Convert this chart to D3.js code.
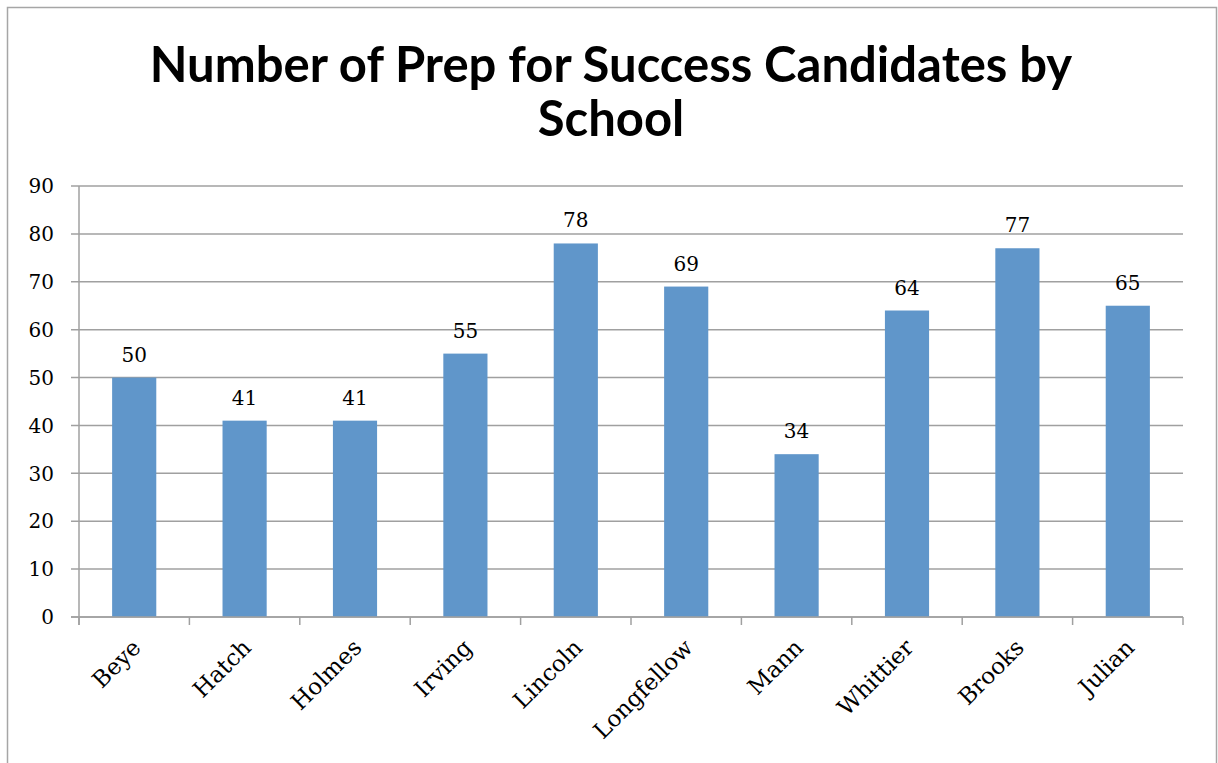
<!DOCTYPE html>
<html><head><meta charset="utf-8">
<script src="https://cdn.jsdelivr.net/npm/d3@7"></script>
<style>body{margin:0;background:#fff;}svg{display:block;}</style>
</head><body>
<svg id="c" width="1218" height="763"></svg>
<script>
const schools = ["Beye","Hatch","Holmes","Irving","Lincoln","Longfellow","Mann","Whittier","Brooks","Julian"];
const candidates = [50,41,41,55,78,69,34,64,77,65];
const yTicks = [0,10,20,30,40,50,60,70,80,90];
const titleLines = ["Number of Prep for Success Candidates by","School"];

const svg = d3.select("#c");
const m = {left:79, right:1183, top:186, bottom:617};
svg.append("rect").attr("x",7.5).attr("y",7.5).attr("width",1209).attr("height",770)
  .attr("fill","#fff").attr("stroke","#a6a6a6").attr("stroke-width",1.5);

const x = d3.scaleBand().domain(schools).range([m.left,m.right]).paddingInner(0.6).paddingOuter(0.3);
const xb = d3.scaleBand().domain(schools).range([m.left,m.right]);
const y = d3.scaleLinear().domain([0,90]).range([m.bottom,m.top]);

const serif = "'DejaVu Serif','Liberation Serif',serif";
// gridlines
svg.append("g").selectAll("line").data(yTicks).join("line")
  .attr("x1",m.left-8).attr("x2",m.right).attr("y1",d=>y(d)).attr("y2",d=>y(d))
  .attr("stroke","#a0a0a0").attr("stroke-width",1.5);
// y axis line
svg.append("line").attr("x1",m.left).attr("x2",m.left).attr("y1",m.top).attr("y2",m.bottom+8)
  .attr("stroke","#a0a0a0").attr("stroke-width",1.5);
// x ticks
const bounds = schools.map(s=>xb(s)).concat([m.right]);
svg.append("g").selectAll("line").data(bounds).join("line")
  .attr("x1",d=>d).attr("x2",d=>d).attr("y1",m.bottom).attr("y2",m.bottom+8)
  .attr("stroke","#a0a0a0").attr("stroke-width",1.5);
// y labels
svg.append("g").selectAll("text").data(yTicks).join("text")
  .attr("x",54).attr("y",d=>y(d)).attr("dy","0.36em").attr("text-anchor","end")
  .attr("font-family",serif).attr("font-size",20).attr("fill","#000").text(d=>d);
// bars
svg.append("g").selectAll("rect").data(candidates).join("rect")
  .attr("x",(d,i)=>x(schools[i])).attr("width",x.bandwidth())
  .attr("y",d=>y(d)).attr("height",d=>y(0)-y(d))
  .attr("fill","#6096ca");
// redraw baseline over bars
svg.append("line").attr("x1",m.left-8).attr("x2",m.right).attr("y1",m.bottom).attr("y2",m.bottom)
  .attr("stroke","#a0a0a0").attr("stroke-width",1.5);
// value labels
svg.append("g").selectAll("text").data(candidates).join("text")
  .attr("x",(d,i)=>x(schools[i])+x.bandwidth()/2).attr("y",d=>y(d)-16)
  .attr("text-anchor","middle").attr("font-family",serif).attr("font-size",20).text(d=>d);
// x labels
svg.append("g").selectAll("text").data(schools).join("text")
  .attr("transform",s=>`translate(${xb(s)+xb.bandwidth()/2+8},${m.bottom+32}) rotate(-45)`)
  .attr("text-anchor","end")
  .attr("font-family",serif).attr("font-size",23).text(s=>s);
// title
svg.append("g").selectAll("text").data(titleLines).join("text")
  .attr("x",611).attr("y",(d,i)=>82+i*54).attr("text-anchor","middle")
  .attr("font-family","Lato, 'Open Sans', sans-serif").attr("font-weight","bold")
  .attr("font-size",49).text(d=>d);
</script>
</body></html>
